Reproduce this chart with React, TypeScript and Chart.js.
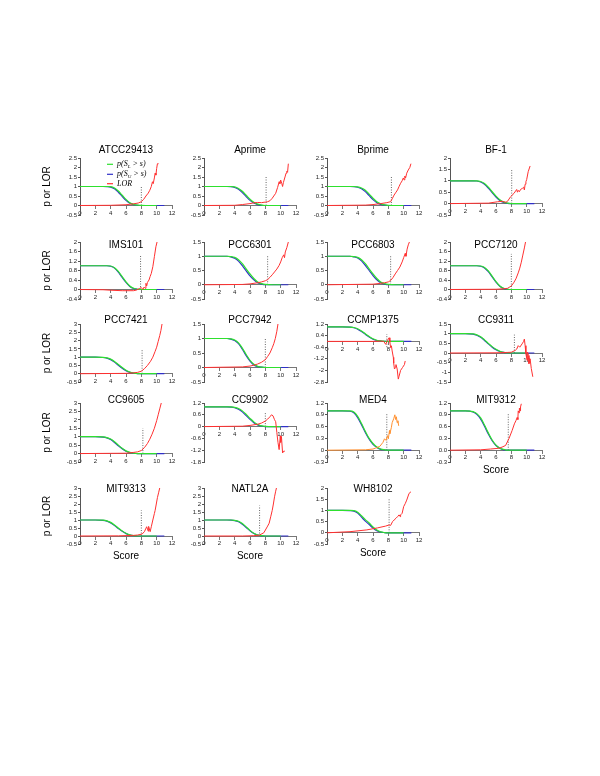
import React, { useEffect, useRef } from 'react';
import { Chart, registerables } from 'chart.js';
Chart.register(...registerables);

const FONT = '"Liberation Sans", Arial, sans-serif';
const SERIF = '"Liberation Serif", "Times New Roman", serif';
const GREEN = '#2ee02e';
const BLUE = '#3030c8';
const RED = '#ff3030';
const ORANGE = '#ff9030';

// ---------- data ----------
const PANEL_NAMES = ['ATCC29413', 'Aprime', 'Bprime', 'BF-1', 'IMS101', 'PCC6301', 'PCC6803', 'PCC7120', 'PCC7421', 'PCC7942', 'CCMP1375', 'CC9311', 'CC9605', 'CC9902', 'MED4', 'MIT9312', 'MIT9313', 'NATL2A', 'WH8102'];
const Y_MIN = [-0.5, -0.5, -0.5, -0.5, -0.4, -0.5, -0.5, -0.4, -0.5, -0.5, -2.8, -1.5, -0.5, -1.8, -0.3, -0.3, -0.5, -0.5, -0.5];
const Y_MAX = [2.5, 2.5, 2.5, 2, 2, 1.5, 1.5, 2, 3, 1.5, 1.2, 1.5, 3, 1.2, 1.2, 1.2, 3, 3, 2];
const Y_STEP = [0.5, 0.5, 0.5, 0.5, 0.4, 0.5, 0.5, 0.4, 0.5, 0.5, 0.8, 0.5, 0.5, 0.6, 0.3, 0.3, 0.5, 0.5, 0.5];
const Y_DECIMALS = [null, null, null, null, null, null, null, null, null, null, null, null, null, null, null, 1, null, null, null];
const X_MIN = 0;
const X_MAX = 12;
const X_STEP = 2;
const CUT_X = [8.0, 8.1, 8.4, 8.05, 7.9, 8.3, 8.3, 8.0, 8.1, 8.0, 7.8, 8.4, 8.2, 8.0, 7.8, 7.6, 8.0, 7.25, 8.1];
const CUT_LOW = [0, 0, 0, 0, 0, 0, 0, 0, 0, 0, -0.4, 0, 0, 0, 0, 0, 0, 0, 0];
const CUT_HIGH = [1.0, 1.5, 1.5, 1.5, 1.45, 1.0, 1.0, 1.5, 1.5, 1.0, 0.5, 0.95, 1.5, 0.7, 0.95, 0.93, 1.6, 1.9, 1.5];

const P_X = [0, 2, 3, 3.5, 4, 4.5, 5, 5.5, 6, 6.5, 7, 7.5, 8, 9, 10, 11];

const G_ATCC29413 = [1, 1, 1, 1, 0.99, 0.92, 0.76, 0.54, 0.32, 0.15, 0.06, 0.02, 0.01, 0, 0, null];
const B_ATCC29413 = [1, 1, 1, 0.99, 0.97, 0.88, 0.7, 0.48, 0.27, 0.12, 0.04, 0.01, 0, 0, 0, 0];
const G_APRIME = [1, 1, 1, 1, 0.98, 0.9, 0.75, 0.54, 0.33, 0.17, 0.07, 0.02, 0, 0, 0, null];
const B_APRIME = [1, 1, 1, 0.99, 0.95, 0.85, 0.68, 0.47, 0.27, 0.13, 0.05, 0.01, 0, 0, 0, 0];
const G_BPRIME = [1, 1, 1, 1, 0.98, 0.92, 0.8, 0.6, 0.38, 0.2, 0.09, 0.03, 0.01, 0, 0, null];
const B_BPRIME = [1, 1, 1, 0.99, 0.96, 0.88, 0.73, 0.52, 0.31, 0.15, 0.06, 0.02, 0, 0, 0, 0];
const G_BF1 = [1, 1, 1, 1, 0.97, 0.88, 0.72, 0.52, 0.33, 0.17, 0.07, 0.02, 0, 0, 0, null];
const B_BF1 = [1, 1, 1, 0.99, 0.95, 0.85, 0.68, 0.48, 0.29, 0.14, 0.05, 0.01, 0, 0, 0, 0];
const G_IMS101 = [1, 1, 1, 1, 0.99, 0.92, 0.76, 0.54, 0.32, 0.15, 0.05, 0.01, 0, 0, 0, null];
const B_IMS101 = [1, 1, 1, 1, 0.98, 0.9, 0.73, 0.51, 0.3, 0.13, 0.04, 0.01, 0, 0, 0, 0];
const G_PCC6301 = [1, 1, 1, 0.99, 0.96, 0.88, 0.74, 0.56, 0.38, 0.22, 0.1, 0.04, 0.01, 0, 0, null];
const B_PCC6301 = [1, 1, 1, 0.98, 0.93, 0.83, 0.67, 0.49, 0.31, 0.17, 0.07, 0.02, 0, 0, 0, 0];
const G_PCC6803 = [1, 1, 1, 0.99, 0.96, 0.88, 0.74, 0.56, 0.38, 0.22, 0.1, 0.04, 0.01, 0, 0, null];
const B_PCC6803 = [1, 1, 1, 0.98, 0.94, 0.84, 0.68, 0.5, 0.32, 0.17, 0.07, 0.02, 0, 0, 0, 0];
const G_PCC7120 = [1, 1, 1, 1, 0.99, 0.93, 0.78, 0.56, 0.33, 0.15, 0.05, 0.01, 0, 0, 0, null];
const B_PCC7120 = [1, 1, 1, 1, 0.98, 0.91, 0.75, 0.53, 0.31, 0.14, 0.04, 0.01, 0, 0, 0, 0];
const G_PCC7421 = [1, 1, 0.99, 0.96, 0.88, 0.74, 0.56, 0.37, 0.21, 0.1, 0.04, 0.01, 0, 0, 0, null];
const B_PCC7421 = [1, 1, 0.98, 0.94, 0.85, 0.7, 0.51, 0.33, 0.18, 0.08, 0.03, 0.01, 0, 0, 0, 0];
const G_PCC7942 = [1, 1, 1, 0.99, 0.95, 0.85, 0.67, 0.45, 0.25, 0.11, 0.04, 0.01, 0, 0, 0, null];
const B_PCC7942 = [1, 1, 1, 0.98, 0.93, 0.82, 0.63, 0.41, 0.22, 0.09, 0.03, 0.01, 0, 0, 0, 0];
const G_CCMP1375 = [1, 1, 0.99, 0.96, 0.87, 0.72, 0.53, 0.34, 0.18, 0.08, 0.03, 0.01, 0, 0, 0, null];
const B_CCMP1375 = [1, 1, 0.98, 0.94, 0.84, 0.68, 0.49, 0.3, 0.15, 0.06, 0.02, 0, 0, 0, 0, 0];
const G_CC9311 = [1, 1, 0.99, 0.94, 0.84, 0.68, 0.5, 0.33, 0.19, 0.09, 0.03, 0.01, 0, 0, 0, null];
const B_CC9311 = [1, 1, 0.98, 0.92, 0.81, 0.65, 0.47, 0.3, 0.17, 0.08, 0.03, 0.01, 0, 0, 0, 0];
const G_CC9605 = [1, 1, 0.99, 0.95, 0.86, 0.7, 0.5, 0.31, 0.16, 0.07, 0.02, 0, 0, 0, 0, null];
const B_CC9605 = [1, 1, 0.98, 0.93, 0.83, 0.66, 0.46, 0.28, 0.14, 0.06, 0.02, 0, 0, 0, 0, 0];
const G_CC9902 = [1, 1, 1, 1, 0.98, 0.92, 0.8, 0.62, 0.42, 0.24, 0.11, 0.04, 0.01, 0, 0, null];
const B_CC9902 = [1, 1, 1, 0.99, 0.96, 0.88, 0.75, 0.56, 0.37, 0.2, 0.09, 0.03, 0, 0, 0, 0];
const G_MED4 = [1, 1, 1, 0.97, 0.86, 0.68, 0.48, 0.3, 0.17, 0.08, 0.03, 0.01, 0, 0, 0, null];
const B_MED4 = [1, 1, 0.99, 0.95, 0.83, 0.65, 0.45, 0.28, 0.15, 0.07, 0.02, 0.01, 0, 0, 0, 0];
const G_MIT9312 = [1, 1, 0.98, 0.93, 0.82, 0.64, 0.44, 0.26, 0.13, 0.05, 0.02, 0, 0, 0, 0, null];
const B_MIT9312 = [1, 1, 0.97, 0.91, 0.79, 0.61, 0.41, 0.24, 0.12, 0.05, 0.01, 0, 0, 0, 0, 0];
const G_MIT9313 = [1, 1, 0.99, 0.95, 0.85, 0.69, 0.5, 0.32, 0.17, 0.07, 0.02, 0, 0, 0, 0, null];
const B_MIT9313 = [1, 1, 0.98, 0.93, 0.82, 0.65, 0.46, 0.29, 0.15, 0.06, 0.02, 0, 0, 0, 0, 0];
const G_NATL2A = [1, 1, 1, 1, 0.98, 0.92, 0.78, 0.57, 0.35, 0.17, 0.06, 0.02, 0, 0, 0, null];
const B_NATL2A = [1, 1, 1, 0.99, 0.96, 0.89, 0.74, 0.53, 0.32, 0.15, 0.05, 0.01, 0, 0, 0, 0];
const G_WH8102 = [1, 1, 1, 0.99, 0.92, 0.76, 0.59, 0.44, 0.26, 0.12, 0.04, 0.01, 0, 0, 0, null];
const B_WH8102 = [1, 1, 0.99, 0.97, 0.88, 0.7, 0.52, 0.37, 0.21, 0.09, 0.03, 0.01, 0, 0, 0, 0];

const LOR_ATCC29413 = [[0, 0], [4, 0.01], [6, 0.04], [7, 0.09], [7.6, 0.13], [8, 0.2], [8.3, 0.32], [8.6, 0.5], [8.9, 0.65], [9.1, 0.8], [9.3, 1.0], [9.45, 1.25], [9.55, 1.15], [9.7, 1.45], [9.8, 1.7], [9.9, 1.6], [10.0, 1.95], [10.1, 2.2], [10.25, 2.2]];
const LOR_APRIME = [[0, 0], [4, 0.01], [5, 0.05], [6, 0.1], [6.5, 0.14], [7, 0.16], [7.5, 0.15], [8, 0.18], [8.3, 0.2], [8.6, 0.25], [8.9, 0.38], [9.1, 0.5], [9.35, 0.64], [9.6, 0.95], [9.8, 1.25], [9.9, 1.15], [10.0, 1.34], [10.15, 1.15], [10.25, 1.0], [10.35, 1.2], [10.45, 1.34], [10.6, 1.55], [10.7, 1.7], [10.8, 1.8], [10.9, 1.75], [11.0, 2.2]];
const LOR_BPRIME = [[0, 0], [5, 0.02], [6, 0.05], [7, 0.1], [7.8, 0.15], [8.3, 0.2], [8.5, 0.35], [8.75, 0.55], [9.0, 0.7], [9.2, 0.82], [9.4, 1.0], [9.6, 1.17], [9.8, 1.3], [9.95, 1.45], [10.05, 1.35], [10.15, 1.55], [10.25, 1.45], [10.4, 1.7], [10.6, 1.87], [10.8, 2.0], [10.95, 2.2]];
const LOR_BF1 = [[0, 0], [5, 0.02], [6.2, 0.08], [6.8, 0.1], [7.3, 0.06], [7.5, 0.1], [7.9, 0.3], [8.35, 0.45], [8.55, 0.55], [8.7, 0.62], [8.8, 0.5], [8.9, 0.58], [9.05, 0.52], [9.2, 0.62], [9.45, 0.67], [9.6, 0.72], [9.7, 0.6], [9.8, 0.85], [9.9, 0.96], [10.0, 1.05], [10.2, 1.4], [10.45, 1.65]];
const LOR_IMS101 = [[0, 0], [3, -0.01], [4, -0.03], [5.5, -0.05], [7, -0.05], [7.4, -0.02], [7.8, 0.05], [8.0, 0.08], [8.2, 0.0], [8.35, 0.1], [8.5, 0.05], [8.6, 0.26], [8.7, 0.15], [8.8, 0.3], [9.0, 0.4], [9.15, 0.55], [9.3, 0.68], [9.5, 0.96], [9.7, 1.38], [9.9, 1.8], [10.05, 2.0]];
const LOR_PCC6301 = [[0, 0], [5, 0.01], [6, 0.03], [7, 0.07], [7.5, 0.1], [8, 0.14], [8.3, 0.18], [8.6, 0.26], [8.9, 0.35], [9.2, 0.45], [9.5, 0.55], [9.8, 0.68], [10.0, 0.8], [10.2, 0.95], [10.4, 1.05], [10.5, 0.95], [10.6, 1.15], [10.8, 1.3], [11.0, 1.5]];
const LOR_PCC6803 = [[0, 0], [6, 0.02], [7, 0.05], [7.5, 0.07], [8, 0.1], [8.3, 0.15], [8.6, 0.25], [8.9, 0.38], [9.2, 0.5], [9.5, 0.62], [9.8, 0.8], [10.0, 0.95], [10.2, 1.1], [10.3, 1.0], [10.45, 1.25], [10.6, 1.4], [10.75, 1.5]];
const LOR_PCC7120 = [[0, 0], [6, 0.01], [7, 0.03], [7.5, 0.05], [8, 0.15], [8.3, 0.28], [8.6, 0.45], [8.9, 0.7], [9.1, 0.9], [9.3, 1.15], [9.5, 1.45], [9.7, 1.75], [9.85, 2.0]];
const LOR_PCC7421 = [[0, 0], [6, 0.02], [7, 0.05], [7.5, 0.08], [8, 0.15], [8.4, 0.3], [8.8, 0.5], [9.2, 0.75], [9.5, 1.0], [9.8, 1.35], [10.0, 1.6], [10.2, 1.95], [10.4, 2.3], [10.55, 2.6], [10.7, 3.0]];
const LOR_PCC7942 = [[0, 0], [5, 0.02], [6, 0.05], [6.5, 0.08], [7, 0.12], [7.5, 0.18], [8, 0.27], [8.3, 0.38], [8.6, 0.5], [8.9, 0.68], [9.1, 0.82], [9.3, 1.0], [9.5, 1.25], [9.65, 1.5]];
const LOR_CCMP1375 = [[0, 0], [6, 0.0], [7, 0.02], [7.4, 0.0], [7.65, -0.2], [7.9, 0.08], [8.1, 0.25], [8.2, -0.05], [8.3, -0.43], [8.4, -0.3], [8.5, -0.66], [8.65, -1.1], [8.7, -1.5], [8.8, -1.9], [8.95, -1.8], [9.0, -1.6], [9.15, -1.9], [9.3, -2.6], [9.4, -2.4], [9.6, -2.0], [9.85, -1.8], [10.1, -1.6], [10.2, -1.35]];
const LOR_CC9311 = [[0, 0], [6, 0.01], [7.5, 0.03], [8.0, 0.04], [8.5, 0.13], [8.7, 0.2], [8.9, 0.38], [9.1, 0.3], [9.4, 0.47], [9.6, 0.6], [9.7, 0.72], [9.8, 0.38], [9.9, -0.04], [10.05, -0.38], [10.1, 0.05], [10.25, -0.13], [10.3, -0.55], [10.45, -0.3], [10.6, -0.8], [10.8, -1.23]];
const LOR_CC9605 = [[0, 0], [6, 0.02], [7, 0.07], [7.5, 0.1], [8, 0.18], [8.4, 0.35], [8.8, 0.6], [9.1, 0.85], [9.4, 1.15], [9.7, 1.5], [10.0, 1.95], [10.2, 2.3], [10.4, 2.65], [10.6, 3.0]];
const LOR_CC9902 = [[0, 0], [5, 0.02], [6, 0.06], [7, 0.12], [7.5, 0.18], [8, 0.28], [8.3, 0.38], [8.6, 0.5], [8.8, 0.6], [9.0, 0.55], [9.2, 0.35], [9.35, 0.25], [9.5, -0.3], [9.65, -0.8], [9.8, -1.17], [9.95, -0.47], [10.0, -0.8], [10.1, -0.5], [10.25, -1.34], [10.4, -1.25], [10.55, -1.25]];
const LOR_MED4 = [[0, 0], [5, 0.01], [6, 0.03], [6.3, 0.05], [6.9, 0.1], [7.3, 0.2], [7.5, 0.29], [7.7, 0.25], [7.9, 0.37], [8.0, 0.29], [8.15, 0.5], [8.2, 0.42], [8.4, 0.58], [8.5, 0.7], [8.7, 0.8], [8.85, 0.9], [8.95, 0.78], [9.05, 0.85], [9.15, 0.7], [9.25, 0.75], [9.35, 0.62]];
const LOR_MIT9312 = [[0, 0], [4, 0.01], [5.3, 0.03], [6.4, 0.05], [6.8, 0.08], [7.25, 0.12], [7.7, 0.3], [8.1, 0.5], [8.4, 0.67], [8.6, 0.75], [8.75, 0.83], [8.85, 0.78], [8.9, 1.0], [9.0, 0.95], [9.05, 1.07], [9.15, 1.0], [9.2, 1.1], [9.3, 1.18]];
const LOR_MIT9313 = [[0, 0], [5, 0.01], [7, 0.04], [7.5, 0.06], [8.1, 0.12], [8.4, 0.27], [8.7, 0.58], [8.9, 0.3], [8.95, 0.6], [9.15, 0.27], [9.3, 0.58], [9.5, 1.0], [9.7, 1.4], [9.8, 1.6], [9.95, 2.0], [10.1, 2.4], [10.25, 2.7], [10.4, 3.0]];
const LOR_NATL2A = [[0, 0], [5, 0.0], [6.5, 0.02], [7.2, 0.05], [7.8, 0.2], [8.3, 0.62], [8.5, 0.8], [8.7, 1.2], [8.9, 1.6], [9.05, 2.0], [9.2, 2.45], [9.35, 2.8], [9.45, 3.0]];
const LOR_WH8102 = [[0, 0], [3, 0.05], [5.2, 0.13], [6.6, 0.22], [7.65, 0.3], [8.1, 0.35], [8.3, 0.33], [8.55, 0.5], [8.75, 0.57], [9.0, 0.65], [9.2, 0.72], [9.4, 0.8], [9.55, 0.72], [9.6, 0.8], [9.8, 0.87], [10.0, 1.17], [10.2, 1.3], [10.4, 1.46], [10.7, 1.76], [10.95, 1.83]];

const GREENS = [G_ATCC29413, G_APRIME, G_BPRIME, G_BF1, G_IMS101, G_PCC6301, G_PCC6803, G_PCC7120, G_PCC7421, G_PCC7942, G_CCMP1375, G_CC9311, G_CC9605, G_CC9902, G_MED4, G_MIT9312, G_MIT9313, G_NATL2A, G_WH8102];
const BLUES = [B_ATCC29413, B_APRIME, B_BPRIME, B_BF1, B_IMS101, B_PCC6301, B_PCC6803, B_PCC7120, B_PCC7421, B_PCC7942, B_CCMP1375, B_CC9311, B_CC9605, B_CC9902, B_MED4, B_MIT9312, B_MIT9313, B_NATL2A, B_WH8102];
const LORS = [LOR_ATCC29413, LOR_APRIME, LOR_BPRIME, LOR_BF1, LOR_IMS101, LOR_PCC6301, LOR_PCC6803, LOR_PCC7120, LOR_PCC7421, LOR_PCC7942, LOR_CCMP1375, LOR_CC9311, LOR_CC9605, LOR_CC9902, LOR_MED4, LOR_MIT9312, LOR_MIT9313, LOR_NATL2A, LOR_WH8102];
const LOR_ORANGE = ['MED4'];
const SCORE_PANELS = ['MIT9312', 'MIT9313', 'NATL2A', 'WH8102'];
const LEGEND_PANEL = 'ATCC29413';
const LEGEND_LABELS = [['p(S', 'L', ' > s)'], ['p(S', 'U', ' > s)'], ['LOR', '', '']];

// ---------- layout ----------
const COL_LEFT = [80, 204, 327, 450];
const PLOT_W = 92;
const ROW_TOP = [158, 242, 324, 403, 488];
const ROW_H = [57, 57, 58, 59, 56];
const TITLE_Y = [150.5, 245, 320.5, 400, 489.5];
const PAD_T = 16;
const PAD_R = 10;
const PAD_B = 32;

const panelTitlePlugin = {
  id: 'panelTitle',
  afterDraw(chart: any, _args: any, opts: any) {
    const { ctx, chartArea } = chart;
    ctx.save();
    ctx.font = `10px ${FONT}`;
    ctx.fillStyle = '#000';
    ctx.textAlign = 'center';
    ctx.textBaseline = 'middle';
    ctx.fillText(opts.text, (chartArea.left + chartArea.right) / 2, opts.y);
    ctx.restore();
  },
};

const probLegendPlugin = {
  id: 'probLegend',
  afterDraw(chart: any, _args: any, opts: any) {
    if (!opts.show) return;
    const { ctx, chartArea } = chart;
    const colors = [GREEN, BLUE, RED];
    const rows = [6.3, 16.3, 25.7];
    ctx.save();
    LEGEND_LABELS.forEach((lab, i) => {
      const y = chartArea.top + rows[i];
      const x0 = chartArea.left + 27;
      ctx.strokeStyle = colors[i];
      ctx.lineWidth = 1.2;
      ctx.beginPath();
      ctx.moveTo(x0, y);
      ctx.lineTo(x0 + 6, y);
      ctx.stroke();
      ctx.fillStyle = '#000';
      ctx.textBaseline = 'middle';
      ctx.textAlign = 'left';
      let x = x0 + 10;
      ctx.font = `italic 8px ${SERIF}`;
      ctx.fillText(lab[0], x, y);
      x += ctx.measureText(lab[0]).width;
      if (lab[1]) {
        ctx.font = `italic 5px ${SERIF}`;
        ctx.fillText(lab[1], x, y + 2);
        x += ctx.measureText(lab[1]).width;
        ctx.font = `italic 8px ${SERIF}`;
        ctx.fillText(lab[2], x, y);
      }
    });
    ctx.restore();
  },
};

function toPts(xs: number[], ys: (number | null)[]) {
  return xs.map((x, i) => ({ x, y: ys[i] }));
}
function pairs(list: number[][]) {
  return list.map(([x, y]) => ({ x, y }));
}
function fmt(v: number, dec: number | null) {
  if (dec !== null) return v.toFixed(dec);
  return String(Math.round(v * 100) / 100);
}

function Panel({ idx }: { idx: number }) {
  const ref = useRef<HTMLCanvasElement>(null);
  const row = Math.floor(idx / 4);
  const col = idx % 4;
  const yw = col === 0 ? 44 : 28;
  const cl = COL_LEFT[col] - yw;
  const ct = ROW_TOP[row] - PAD_T;
  const cw = yw + PLOT_W + PAD_R;
  const ch = PAD_T + ROW_H[row] + PAD_B;
  const name = PANEL_NAMES[idx];

  useEffect(() => {
    const lorColor = LOR_ORANGE.includes(name) ? ORANGE : RED;
    const dec = Y_DECIMALS[idx];
    const chart = new Chart(ref.current as HTMLCanvasElement, {
      type: 'line',
      data: {
        datasets: [
          { label: 'LOR', data: pairs(LORS[idx]), borderColor: lorColor, borderWidth: 1, pointRadius: 0, tension: 0, fill: false },
          { label: 'p(S_L > s)', data: toPts(P_X, GREENS[idx]), borderColor: GREEN, borderWidth: 1.2, pointRadius: 0, cubicInterpolationMode: 'monotone', fill: false },
          { label: 'p(S_U > s)', data: toPts(P_X, BLUES[idx]), borderColor: BLUE, borderWidth: 1.2, pointRadius: 0, cubicInterpolationMode: 'monotone', fill: false },
          { label: 'cutoff', data: [{ x: CUT_X[idx], y: CUT_LOW[idx] }, { x: CUT_X[idx], y: CUT_HIGH[idx] }], borderColor: '#666', borderWidth: 1, borderDash: [1, 1.5], pointRadius: 0, fill: false },
        ],
      } as any,
      options: {
        responsive: false,
        animation: false,
        events: [],
        layout: { padding: { top: PAD_T, right: PAD_R, bottom: PAD_B, left: 0 } },
        plugins: {
          legend: { display: false },
          tooltip: { enabled: false },
          panelTitle: { text: name, y: TITLE_Y[row] - ct },
          probLegend: { show: name === LEGEND_PANEL },
        } as any,
        scales: {
          x: {
            type: 'linear',
            min: X_MIN,
            max: X_MAX,
            position: { y: 0 } as any,
            ticks: { stepSize: X_STEP, autoSkip: false, maxRotation: 0, font: { size: 6, family: FONT }, color: '#222', padding: 1, callback: (v: any) => fmt(Number(v), null) },
            grid: { drawOnChartArea: false, tickLength: 3, color: '#777' },
            border: { color: '#777', width: 1 },
            title: { display: SCORE_PANELS.includes(name), text: 'Score', font: { size: 10, family: FONT }, color: '#000', padding: { top: 2, bottom: 0 } },
          },
          y: {
            type: 'linear',
            min: Y_MIN[idx],
            max: Y_MAX[idx],
            ticks: { stepSize: Y_STEP[idx], autoSkip: false, font: { size: 6, family: FONT }, color: '#222', padding: 1, callback: (v: any) => fmt(Number(v), dec) },
            grid: { drawOnChartArea: false, tickLength: 2, color: '#555' },
            border: { color: '#555', width: 1 },
            title: { display: col === 0, text: 'p or LOR', font: { size: 10, family: FONT }, color: '#000', padding: { top: 5, bottom: 0 } },
            afterFit: (s: any) => { s.width = yw; },
          },
        } as any,
      },
      plugins: [panelTitlePlugin, probLegendPlugin] as any,
    });
    return () => chart.destroy();
  }, []);

  return (
    <canvas
      ref={ref}
      width={cw}
      height={ch}
      style={{ position: 'absolute', left: cl, top: ct, width: cw, height: ch }}
    />
  );
}

export default function App() {
  return (
    <div style={{ position: 'absolute', left: 0, top: 0, width: 600, height: 776, background: '#fff' }}>
      {PANEL_NAMES.map((n, i) => (
        <Panel key={n} idx={i} />
      ))}
    </div>
  );
}
